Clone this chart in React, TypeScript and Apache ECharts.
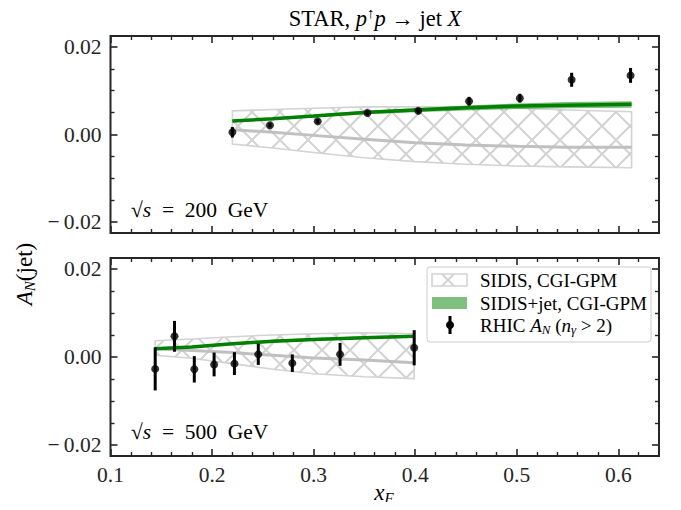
import React, { useEffect, useRef } from "react";
import * as echarts from "echarts";

// ---------- tick labels ----------
const xMajorTicks = [0.1, 0.2, 0.3, 0.4, 0.5, 0.6];
const xMinorTicks = [0.12, 0.14, 0.16, 0.18, 0.22, 0.24, 0.26, 0.28, 0.32, 0.34, 0.36, 0.38, 0.42, 0.44, 0.46, 0.48, 0.52, 0.54, 0.56, 0.58, 0.62];
const yMajorTicks = [-0.02, 0, 0.02];
const yMinorTicks = [-0.015, -0.01, -0.005, 0.005, 0.01, 0.015];

// ---------- top panel: sqrt(s) = 200 GeV ----------
const data200X = [0.22, 0.257, 0.304, 0.353, 0.403, 0.453, 0.503, 0.554, 0.612];
const data200Y = [0.0005, 0.0021, 0.003, 0.0049, 0.0054, 0.0076, 0.0083, 0.0125, 0.0135];
const data200Err = [0.0012, 0.0005, 0.0005, 0.0005, 0.0006, 0.001, 0.001, 0.0016, 0.0017];

const curve200X = [0.22, 0.26, 0.3, 0.35, 0.4, 0.45, 0.5, 0.55, 0.613];
const sidis200Lo = [-0.0022, -0.0031, -0.0041, -0.0053, -0.0062, -0.0068, -0.0072, -0.0074, -0.0076];
const sidis200Hi = [0.0054, 0.0057, 0.006, 0.0063, 0.0063, 0.0063, 0.006, 0.0056, 0.0052];
const sidis200Mid = [0.0011, 0.0005, -0.0002, -0.0011, -0.0019, -0.0024, -0.0027, -0.0029, -0.0029];
const jet200Mid = [0.0031, 0.0036, 0.0042, 0.005, 0.0056, 0.0061, 0.0065, 0.0067, 0.0069];
const jet200Lo = [0.0029, 0.0034, 0.0039, 0.0046, 0.0051, 0.0055, 0.0058, 0.006, 0.0061];
const jet200Hi = [0.0033, 0.0038, 0.0045, 0.0054, 0.006, 0.0066, 0.0071, 0.0074, 0.0076];

// ---------- bottom panel: sqrt(s) = 500 GeV ----------
const data500X = [0.144, 0.163, 0.1825, 0.202, 0.222, 0.2455, 0.279, 0.326, 0.399];
const data500Y = [-0.0027, 0.0047, -0.0028, -0.0017, -0.0015, 0.0006, -0.0014, 0.0006, 0.0021];
const data500Err = [0.0049, 0.0035, 0.003, 0.0027, 0.0026, 0.0024, 0.002, 0.0026, 0.004];

const curve500X = [0.144, 0.18, 0.22, 0.26, 0.3, 0.35, 0.399];
const sidis500Lo = [0.0004, -0.0003, -0.0015, -0.0028, -0.0038, -0.0045, -0.0049];
const sidis500Hi = [0.0037, 0.0041, 0.0046, 0.005, 0.0053, 0.0055, 0.0053];
const sidis500Mid = [0.0019, 0.0015, 0.001, 0.0004, -0.0002, -0.0007, -0.0013];
const jet500Mid = [0.0019, 0.0023, 0.003, 0.0036, 0.004, 0.0044, 0.0047];
const jet500Lo = [0.0017, 0.0021, 0.0027, 0.0033, 0.0037, 0.0041, 0.0044];
const jet500Hi = [0.0021, 0.0025, 0.0033, 0.0039, 0.0043, 0.0047, 0.005];

const FONT = '"Liberation Serif", "DejaVu Serif", serif';
const INK = "#262626";
const HATCH = "#d3d3d3";
const GREEN = "#008000";
const GREEN_FILL = "rgba(0,128,0,0.5)";
const GRAY_LINE = "#c0c0c0";

function makeHatch(): HTMLCanvasElement {
  const s = 28;
  const c = document.createElement("canvas");
  c.width = s;
  c.height = s;
  const ctx = c.getContext("2d")!;
  ctx.strokeStyle = HATCH;
  ctx.lineWidth = 2;
  ctx.beginPath();
  for (let k = -1; k <= 1; k++) {
    ctx.moveTo(k * s, 0);
    ctx.lineTo(k * s + s, s);
    ctx.moveTo(k * s + s, 0);
    ctx.lineTo(k * s, s);
  }
  ctx.stroke();
  return c;
}

function fmtY(v: number) {
  if (Math.abs(v) < 1e-9) return "0.00";
  return (v < 0 ? "\u2212\u2009" : "") + Math.abs(v).toFixed(2);
}

const GRIDS = [
  { left: 110.5, top: 36, width: 548.5, height: 197 },
  { left: 110.5, top: 258, width: 548.5, height: 198 },
];

function buildAxes() {
  const xAxis: any[] = [];
  const yAxis: any[] = [];
  GRIDS.forEach((_, g) => {
    const xBase = {
      type: "value",
      gridIndex: g,
      min: 0.1,
      max: 0.64,
      axisLine: { show: false, onZero: false },
      splitLine: { show: false },
    };
    const yBase = {
      type: "value",
      gridIndex: g,
      min: -0.0225,
      max: 0.0225,
      axisLine: { show: false, onZero: false },
      splitLine: { show: false },
    };
    ["bottom", "top"].forEach((pos) => {
      xAxis.push({
        ...xBase,
        position: pos,
        axisTick: { show: true, inside: true, length: 7, customValues: xMajorTicks, lineStyle: { color: INK, width: 1.6 } },
        axisLabel: {
          show: pos === "bottom" && g === 1,
          customValues: xMajorTicks,
          formatter: (v: number) => v.toFixed(1),
          fontFamily: FONT,
          fontSize: 21.5,
          color: INK,
          margin: 8,
        },
      });
      xAxis.push({
        ...xBase,
        position: pos,
        axisTick: { show: true, inside: true, length: 4, customValues: xMinorTicks, lineStyle: { color: INK, width: 1.4 } },
        axisLabel: { show: false },
      });
    });
    ["left", "right"].forEach((pos) => {
      yAxis.push({
        ...yBase,
        position: pos,
        axisTick: { show: true, inside: true, length: 7, customValues: yMajorTicks, lineStyle: { color: INK, width: 1.6 } },
        axisLabel: {
          show: pos === "left",
          customValues: yMajorTicks,
          formatter: fmtY,
          fontFamily: FONT,
          fontSize: 21.5,
          color: INK,
          margin: 9,
        },
      });
      yAxis.push({
        ...yBase,
        position: pos,
        axisTick: { show: true, inside: true, length: 4, customValues: yMinorTicks, lineStyle: { color: INK, width: 1.4 } },
        axisLabel: { show: false },
      });
    });
  });
  return { xAxis, yAxis };
}

function bandSeries(g: number, xs: number[], lo: number[], hi: number[], style: any, z: number) {
  return {
    type: "custom",
    xAxisIndex: g * 4,
    yAxisIndex: g * 4,
    silent: true,
    z,
    data: xs.map((x, i) => [x, lo[i], hi[i]]),
    renderItem: (params: any, api: any) => {
      if (params.dataIndex !== 0) return null;
      const pts: number[][] = [];
      for (let i = 0; i < xs.length; i++) pts.push(api.coord([xs[i], hi[i]]));
      for (let i = xs.length - 1; i >= 0; i--) pts.push(api.coord([xs[i], lo[i]]));
      return { type: "polygon", shape: { points: pts }, style };
    },
  };
}

function lineSeries(g: number, xs: number[], ys: number[], color: string, width: number, z: number) {
  return {
    type: "line",
    xAxisIndex: g * 4,
    yAxisIndex: g * 4,
    data: xs.map((x, i) => [x, ys[i]]),
    showSymbol: false,
    symbol: "none",
    silent: true,
    z,
    lineStyle: { color, width, cap: "butt" },
  };
}

function errSeries(g: number, xs: number[], ys: number[], es: number[]) {
  return [
    {
      type: "custom",
      xAxisIndex: g * 4,
      yAxisIndex: g * 4,
      silent: true,
      z: 10,
      data: xs.map((x, i) => [x, ys[i], es[i]]),
      renderItem: (_p: any, api: any) => {
        const x = api.value(0);
        const y = api.value(1);
        const e = api.value(2);
        const a = api.coord([x, y - e]);
        const b = api.coord([x, y + e]);
        return {
          type: "line",
          shape: { x1: a[0], y1: a[1], x2: b[0], y2: b[1] },
          style: { stroke: "#000", lineWidth: 3 },
        };
      },
    },
    {
      type: "scatter",
      xAxisIndex: g * 4,
      yAxisIndex: g * 4,
      silent: true,
      z: 11,
      symbol: "circle",
      symbolSize: 8,
      itemStyle: { color: "#000" },
      data: xs.map((x, i) => [x, ys[i]]),
    },
  ];
}

export default function App() {
  const ref = useRef<HTMLDivElement>(null);
  useEffect(() => {
    if (!ref.current) return;
    const chart = echarts.init(ref.current, null, { renderer: "svg" });
    const hatch = makeHatch();
    const hatchFill = { image: hatch, repeat: "repeat" };
    const { xAxis, yAxis } = buildAxes();

    const series: any[] = [
      bandSeries(0, curve200X, sidis200Lo, sidis200Hi, { fill: hatchFill, stroke: HATCH, lineWidth: 1.6 }, 2),
      lineSeries(0, curve200X, sidis200Mid, GRAY_LINE, 3, 3),
      bandSeries(0, curve200X, jet200Lo, jet200Hi, { fill: GREEN_FILL }, 4),
      lineSeries(0, curve200X, jet200Mid, GREEN, 3.5, 5),
      ...errSeries(0, data200X, data200Y, data200Err),
      bandSeries(1, curve500X, sidis500Lo, sidis500Hi, { fill: hatchFill, stroke: HATCH, lineWidth: 1.6 }, 2),
      lineSeries(1, curve500X, sidis500Mid, GRAY_LINE, 3, 3),
      bandSeries(1, curve500X, jet500Lo, jet500Hi, { fill: GREEN_FILL }, 4),
      lineSeries(1, curve500X, jet500Mid, GREEN, 3.5, 5),
      ...errSeries(1, data500X, data500Y, data500Err),
    ];

    const txt = { fontFamily: FONT, fill: "#000" };
    const legendX = 480;
    const LF = 19;
    const SP = "\u2005";
    const graphic: any[] = [
      {
        type: "text",
        x: 375,
        y: 18,
        style: {
          ...txt,
          text: "{r|STAR, }{i|p}{s|\u2191}{i|p}{r| \u2192 jet }{i|X}",
          align: "center",
          verticalAlign: "middle",
          rich: {
            r: { fontFamily: FONT, fontSize: 22.5, lineHeight: 26, verticalAlign: "middle" },
            i: { fontFamily: FONT, fontSize: 22.5, fontStyle: "italic", lineHeight: 26, verticalAlign: "middle" },
            s: { fontFamily: FONT, fontSize: 15, lineHeight: 15, verticalAlign: "top" },
          },
        },
      },
      {
        type: "text",
        x: 384,
        y: 492,
        style: {
          ...txt,
          text: "{i|x}{s|F}",
          align: "center",
          verticalAlign: "middle",
          rich: {
            i: { fontFamily: FONT, fontSize: 23, fontStyle: "italic", lineHeight: 26 },
            s: { fontFamily: FONT, fontSize: 15, fontStyle: "italic", lineHeight: 15, verticalAlign: "bottom" },
          },
        },
      },
      {
        type: "text",
        x: 24,
        y: 274,
        rotation: Math.PI / 2,
        style: {
          ...txt,
          text: "{i|A}{s|N}{r|(jet)}",
          align: "center",
          verticalAlign: "middle",
          rich: {
            i: { fontFamily: FONT, fontSize: 23, fontStyle: "italic", lineHeight: 26 },
            r: { fontFamily: FONT, fontSize: 23, lineHeight: 26 },
            s: { fontFamily: FONT, fontSize: 15, fontStyle: "italic", lineHeight: 15, verticalAlign: "bottom" },
          },
        },
      },
      {
        type: "text",
        x: 131,
        y: 210,
        style: {
          ...txt,
          text: `{r|\u221A}{i|s}{r| ${SP}=${SP} 200${SP} GeV}`,
          verticalAlign: "middle",
          rich: {
            r: { fontFamily: FONT, fontSize: 21.5, lineHeight: 24 },
            i: { fontFamily: FONT, fontSize: 21.5, fontStyle: "italic", lineHeight: 24 },
          },
        },
      },
      {
        type: "text",
        x: 131,
        y: 432,
        style: {
          ...txt,
          text: `{r|\u221A}{i|s}{r| ${SP}=${SP} 500${SP} GeV}`,
          verticalAlign: "middle",
          rich: {
            r: { fontFamily: FONT, fontSize: 21.5, lineHeight: 24 },
            i: { fontFamily: FONT, fontSize: 21.5, fontStyle: "italic", lineHeight: 24 },
          },
        },
      },
      // legend
      {
        type: "rect",
        shape: { x: 427, y: 267, width: 224, height: 75, r: 3 },
        style: { fill: "rgba(255,255,255,0.8)", stroke: "#cccccc", lineWidth: 1 },
        z: 20,
      },
      {
        type: "rect",
        shape: { x: 432, y: 274, width: 35, height: 12 },
        style: { fill: hatchFill, stroke: HATCH, lineWidth: 1.6 },
        z: 21,
      },
      {
        type: "rect",
        shape: { x: 432, y: 297, width: 35, height: 12 },
        style: { fill: GREEN_FILL },
        z: 21,
      },
      {
        type: "line",
        shape: { x1: 450, y1: 316, x2: 450, y2: 334 },
        style: { stroke: "#000", lineWidth: 3 },
        z: 21,
      },
      {
        type: "circle",
        shape: { cx: 450, cy: 325, r: 4 },
        style: { fill: "#000" },
        z: 22,
      },
      {
        type: "text",
        x: legendX,
        y: 280,
        z: 21,
        style: { ...txt, text: "SIDIS, CGI-GPM", fontSize: LF, verticalAlign: "middle" },
      },
      {
        type: "text",
        x: legendX,
        y: 303,
        z: 21,
        style: { ...txt, text: "SIDIS+jet, CGI-GPM", fontSize: LF, verticalAlign: "middle" },
      },
      {
        type: "text",
        x: legendX,
        y: 325,
        z: 21,
        style: {
          ...txt,
          text: `{r|RHIC }{i|A}{s|N}{r| (}{i|n}{s|\u03B3}{r|${SP}>${SP}2)}`,
          verticalAlign: "middle",
          rich: {
            r: { fontFamily: FONT, fontSize: LF, lineHeight: 22 },
            i: { fontFamily: FONT, fontSize: LF, fontStyle: "italic", lineHeight: 22 },
            s: { fontFamily: FONT, fontSize: 13, fontStyle: "italic", lineHeight: 13, verticalAlign: "bottom" },
          },
        },
      },
    ];

    chart.setOption({
      animation: false,
      backgroundColor: "#ffffff",
      grid: GRIDS.map((g) => ({ ...g, show: true, borderColor: INK, borderWidth: 2, backgroundColor: "transparent" })),
      xAxis,
      yAxis,
      series,
      graphic,
    });
    return () => chart.dispose();
  }, []);
  return <div ref={ref} style={{ width: 681, height: 510, margin: -8 }} />;
}
